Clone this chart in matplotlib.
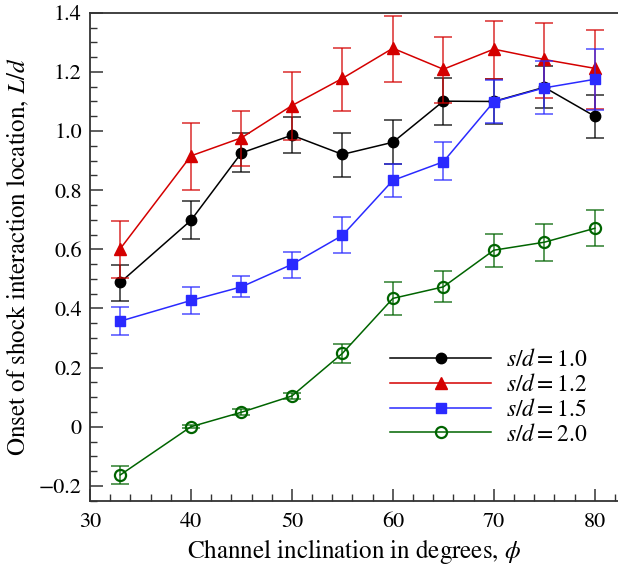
import numpy as np
import matplotlib.pyplot as plt
from matplotlib.ticker import MultipleLocator, FixedLocator

plt.rcParams['font.family'] = 'STIXGeneral'
plt.rcParams['mathtext.fontset'] = 'stix'

# Угол наклона канала, градусы
phi = [33, 40, 45, 50, 55, 60, 65, 70, 75, 80]

# s/d = 1.0
L_10 = [0.488, 0.698, 0.926, 0.986, 0.921, 0.962, 1.101, 1.100, 1.148, 1.050]
lo_10 = [0.426, 0.634, 0.861, 0.927, 0.845, 0.888, 1.019, 1.024, 1.079, 0.977]
hi_10 = [0.547, 0.762, 0.992, 1.046, 0.994, 1.036, 1.178, 1.176, 1.219, 1.121]

# s/d = 1.2
L_12 = [0.602, 0.916, 0.977, 1.086, 1.178, 1.280, 1.209, 1.277, 1.242, 1.212]
lo_12 = [0.502, 0.800, 0.882, 0.970, 1.068, 1.165, 1.094, 1.176, 1.112, 1.073]
hi_12 = [0.696, 1.026, 1.068, 1.198, 1.282, 1.389, 1.317, 1.372, 1.365, 1.343]

# s/d = 1.5
L_15 = [0.357, 0.427, 0.473, 0.549, 0.647, 0.833, 0.896, 1.099, 1.146, 1.175]
lo_15 = [0.310, 0.380, 0.438, 0.504, 0.588, 0.777, 0.833, 1.026, 1.057, 1.070]
hi_15 = [0.404, 0.473, 0.509, 0.592, 0.709, 0.888, 0.964, 1.172, 1.237, 1.278]

# s/d = 2.0
L_20 = [-0.163, 0.000, 0.049, 0.104, 0.248, 0.434, 0.473, 0.597, 0.624, 0.671]
lo_20 = [-0.195, -0.005, 0.039, 0.094, 0.216, 0.377, 0.422, 0.539, 0.560, 0.611]
hi_20 = [-0.132, 0.005, 0.059, 0.114, 0.280, 0.490, 0.526, 0.652, 0.687, 0.732]

labels = [r'$s/d = 1.0$', r'$s/d = 1.2$', r'$s/d = 1.5$', r'$s/d = 2.0$']
y_ticks = [-0.2, 0, 0.2, 0.4, 0.6, 0.8, 1.0, 1.2, 1.4]
y_ticklabels = ['\u22120.2', '0', '0.2', '0.4', '0.6', '0.8', '1.0', '1.2', '1.4']

fig = plt.figure(figsize=(6.18, 5.67), dpi=100)
ax = fig.add_axes([0.1456, 0.117, 0.8544, 0.8605])

series = [
    (L_10, lo_10, hi_10, 'black', 'o', 'black', 7.5),
    (L_12, lo_12, hi_12, '#d40000', '^', '#d40000', 8),
    (L_15, lo_15, hi_15, '#2a2aff', 's', '#2a2aff', 6.5),
    (L_20, lo_20, hi_20, '#006400', 'o', 'none', 8),
]

for (L, lo, hi, col, mk, fc, ms), lab in zip(series, labels):
    L = np.array(L)
    err = [L - np.array(lo), np.array(hi) - L]
    ax.errorbar(phi, L, yerr=err, fmt='none', ecolor=col, elinewidth=1.4,
                capsize=6.5, capthick=1.4, alpha=0.65)
    ax.plot(phi, L, color=col, lw=1.1, marker=mk, ms=ms, mfc=fc, mec=col,
            mew=1.6 if fc == 'none' else 1.0, label=lab)

ax.set_xlim(30, 82.3)
ax.set_ylim(-0.25, 1.4)
ax.xaxis.set_major_locator(MultipleLocator(10))
ax.xaxis.set_minor_locator(MultipleLocator(2))
ax.yaxis.set_major_locator(FixedLocator(y_ticks))
ax.set_yticklabels(y_ticklabels)
ax.yaxis.set_minor_locator(MultipleLocator(0.05))
ax.tick_params(which='both', direction='in', labelsize=16, top=False, right=False,
               color='#333333')
ax.tick_params(which='major', length=9, width=1.1)
ax.tick_params(which='minor', length=5, width=1.0)
ax.tick_params(axis='x', pad=8)
ax.tick_params(axis='y', pad=6)
for side in ['left', 'bottom', 'top']:
    ax.spines[side].set_color('#333333')
    ax.spines[side].set_linewidth(1.3)
ax.spines['right'].set_visible(False)

ax.set_xlabel(r'Channel inclination in degrees, $\phi$', fontsize=18, labelpad=4)
ax.set_ylabel(r'Onset of shock interaction location, $L/d$', fontsize=18, labelpad=5)

ax.legend(loc='upper left', bbox_to_anchor=(0.55, 0.33), frameon=False,
          fontsize=17, handlelength=4.3, labelspacing=0.12, handletextpad=0.6,
          borderaxespad=0)

fig.savefig('out.png', dpi=100)
